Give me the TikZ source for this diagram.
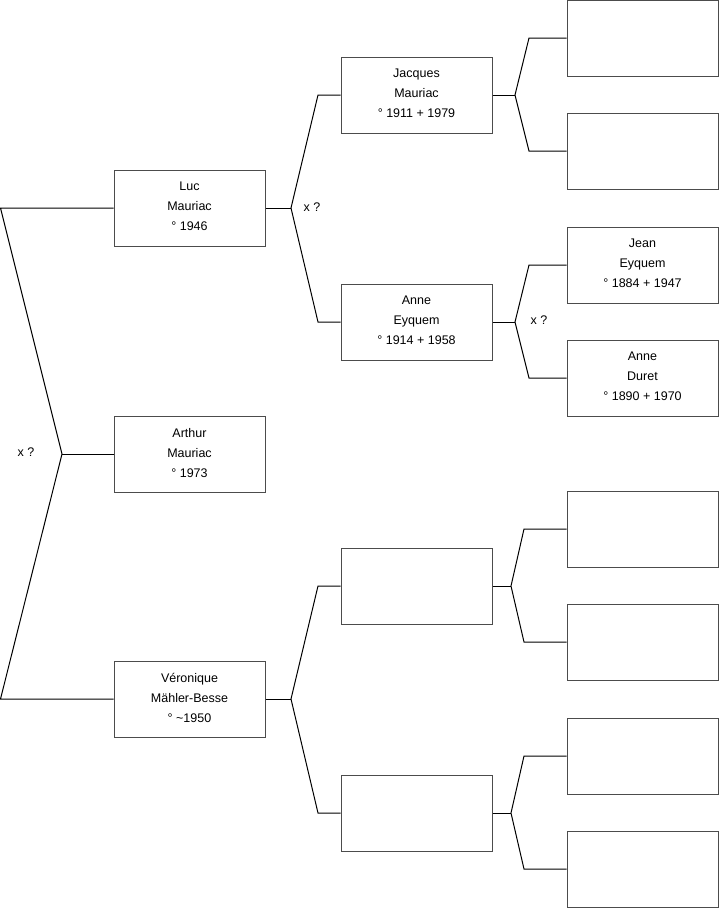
\documentclass[tikz,border=0pt]{standalone}
\usepackage{fontspec}
\setmainfont{Liberation Sans}
\begin{document}
\begin{tikzpicture}[x=1pt,y=-1pt,
  person/.style={draw=black!70, line width=1pt, minimum width=151pt, minimum height=76pt,
    inner sep=0pt, align=center, text depth=3pt, font=\fontsize{12.5}{20}\selectfont},
  link/.style={draw=black, line width=1pt},
  lbl/.style={font=\fontsize{12.5}{14}\selectfont, inner sep=0pt}]
\useasboundingbox (0,0) rectangle (719,908);
% generation 1
\node[person] (luc) at (189.5,208) {Luc\\Mauriac\\° 1946};
\node[person] (arthur) at (189.5,454) {Arthur\\Mauriac\\° 1973};
\node[person] (vero) at (189.5,699) {Véronique\\Mähler-Besse\\° \textasciitilde1950};
% generation 2
\node[person] (jacques) at (416.5,95) {Jacques\\Mauriac\\° 1911 + 1979};
\node[person] (anneE) at (416.5,322) {Anne\\Eyquem\\° 1914 + 1958};
\node[person] (vf) at (416.5,586) {};
\node[person] (vm) at (416.5,813) {};
% generation 3
\node[person] (jf) at (642.5,38) {};
\node[person] (jm) at (642.5,151) {};
\node[person] (jean) at (642.5,265) {Jean\\Eyquem\\° 1884 + 1947};
\node[person] (anneD) at (642.5,378) {Anne\\Duret\\° 1890 + 1970};
\node[person] (vff) at (642.5,529) {};
\node[person] (vfm) at (642.5,642) {};
\node[person] (vmf) at (642.5,756) {};
\node[person] (vmm) at (642.5,869) {};
% root connector
\coordinate (rj) at (62,454);
\coordinate (rt) at (0.5,208);
\coordinate (rb) at (0.5,699);
\draw[link] (luc.west) -- (rt) -- (rj) -- (rb) -- (vero.west);
\draw[link] (rj) -- (arthur.west);
\node[lbl] (x1) at (26,452) {x ?};
% Luc's parents
\coordinate (lj) at (291,208);
\draw[link] (luc.east) -- (lj);
\draw[link] (jacques.west) -- (318,95) -- (lj) -- (318,322) -- (anneE.west);
\node[lbl] (x2) at (312,207) {x ?};
% Veronique's parents
\coordinate (vj) at (291,699);
\draw[link] (vero.east) -- (vj);
\draw[link] (vf.west) -- (318,586) -- (vj) -- (318,813) -- (vm.west);
% Jacques' parents
\coordinate (jj) at (515,95);
\draw[link] (jacques.east) -- (jj);
\draw[link] (jf.west) -- (529,38) -- (jj) -- (529,151) -- (jm.west);
% Anne Eyquem's parents
\coordinate (aj) at (515,322);
\draw[link] (anneE.east) -- (aj);
\draw[link] (jean.west) -- (529,265) -- (aj) -- (529,378) -- (anneD.west);
\node[lbl] (x3) at (539,320) {x ?};
% upper blank's parents
\coordinate (fj) at (511,586);
\draw[link] (vf.east) -- (fj);
\draw[link] (vff.west) -- (524,529) -- (fj) -- (524,642) -- (vfm.west);
% lower blank's parents
\coordinate (mj) at (511,813);
\draw[link] (vm.east) -- (mj);
\draw[link] (vmf.west) -- (524,756) -- (mj) -- (524,869) -- (vmm.west);
\end{tikzpicture}
\end{document}
